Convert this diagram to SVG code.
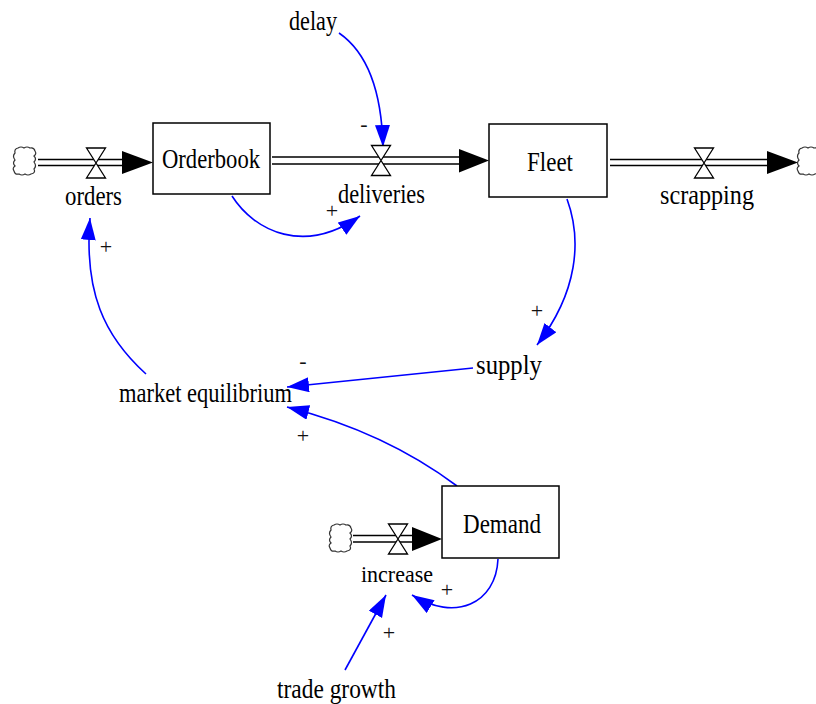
<svg xmlns="http://www.w3.org/2000/svg" xmlns:xlink="http://www.w3.org/1999/xlink" width="816" height="704" viewBox="0 0 816 704">
<style>
  text { fill: #000; }
  .lbl { font-family: "Liberation Serif", "Times New Roman", serif; font-size: 27px; }
  .sign { font-family: "Liberation Serif", "Times New Roman", serif; font-size: 22px; text-anchor: middle; fill: #111; }
  .box { fill: #fff; stroke: #000; stroke-width: 1.5; }
  .pipe { stroke: #000; stroke-width: 1.4; fill: none; }
  .head { fill: #000; stroke: none; }
  .valve { fill: #fff; stroke: #000; stroke-width: 1.3; }
  .cloud { fill: #fff; stroke: #333; stroke-width: 1.2; }
  .link { fill: none; stroke: #0000ff; stroke-width: 1.6; marker-end: url(#ah); }
</style>
<defs>
  <marker id="ah" markerUnits="userSpaceOnUse" markerWidth="23" markerHeight="16" refX="22" refY="7.5" orient="auto">
    <path d="M0,0 L22,7.5 L0,15 Z" fill="#0000ff"/>
  </marker>
  <path id="valve" class="valve" d="M-9.5,-15 H9.5 L-9.5,15 H9.5 Z"/>
  <path id="cloud" class="cloud" d="M5,1 q3,-2 6,0 q3,-2 6,0 q4,-1 5,3 q2,3 -1,5 q3,3 0,6 q3,4 0,7 q2,4 -3,5 q-3,2 -6,0 q-3,2 -6,0 q-4,1 -5,-3 q-2,-3 1,-5 q-3,-3 0,-6 q-3,-4 0,-7 q-1,-4 3,-5 z"/>
</defs>

<g id="connectors">
  <path class="pipe" d="M38,159.5 H125 M38,165.5 H125"/>
  <polygon class="head" points="122,151 153,162.5 122,174"/>
  <path class="pipe" d="M272,157 H462 M272,164 H462"/>
  <polygon class="head" points="459,149 489,160.5 459,172.5"/>
  <path class="pipe" d="M610,159.5 H770 M610,165.5 H770"/>
  <polygon class="head" points="767,151 798,162.5 767,174"/>
  <path class="pipe" d="M353,535.5 H415 M353,542 H415"/>
  <polygon class="head" points="412,527 442,539 412,551"/>

  <path class="link" d="M339,33 Q381,62 383,147"/>
  <path class="link" d="M232,196 C255,232 305,255 360,216"/>
  <path class="link" d="M567,199 C582,240 578,292 537,345"/>
  <path class="link" d="M473,368 L287,387"/>
  <path class="link" d="M457,486 Q385,432 287,407"/>
  <path class="link" d="M146,374 C104,336 84,292 90,218"/>
  <path class="link" d="M498,559 C496,604 455,622 412,595"/>
  <path class="link" d="M345,670 L386,595"/>

  <text class="sign" x="364" y="131">-</text>
  <text class="sign" x="332" y="218">+</text>
  <text class="sign" x="537" y="318">+</text>
  <text class="sign" x="303" y="368">-</text>
  <text class="sign" x="303" y="443">+</text>
  <text class="sign" x="106" y="254">+</text>
  <text class="sign" x="447" y="597">+</text>
  <text class="sign" x="389" y="640">+</text>
</g>

<g id="cloud-orders-source"><use xlink:href="#cloud" x="13" y="147"/></g>
<g id="cloud-scrapping-sink"><use xlink:href="#cloud" x="797" y="147"/></g>
<g id="cloud-increase-source"><use xlink:href="#cloud" x="329" y="524"/></g>

<g id="orders"><use xlink:href="#valve" x="96" y="163"/><text class="lbl" x="65" y="205" textLength="57" lengthAdjust="spacingAndGlyphs">orders</text></g>
<g id="deliveries"><use xlink:href="#valve" x="381" y="160.5"/><text class="lbl" x="338" y="203" textLength="87" lengthAdjust="spacingAndGlyphs">deliveries</text></g>
<g id="scrapping"><use xlink:href="#valve" x="704" y="163"/><text class="lbl" x="660" y="204" textLength="94" lengthAdjust="spacingAndGlyphs">scrapping</text></g>
<g id="increase"><use xlink:href="#valve" x="398" y="539"/><text class="lbl" x="361" y="582" font-size="24" style="font-size:24px" textLength="72" lengthAdjust="spacingAndGlyphs">increase</text></g>

<g id="Orderbook"><rect class="box" x="153" y="123" width="117" height="71"/><text class="lbl" x="162" y="168" textLength="98" lengthAdjust="spacingAndGlyphs">Orderbook</text></g>
<g id="Fleet"><rect class="box" x="489" y="124" width="118" height="73"/><text class="lbl" x="527" y="171" textLength="46" lengthAdjust="spacingAndGlyphs">Fleet</text></g>
<g id="Demand"><rect class="box" x="442" y="486" width="117" height="72"/><text class="lbl" x="463" y="533" textLength="78" lengthAdjust="spacingAndGlyphs">Demand</text></g>

<g id="delay"><text class="lbl" x="289" y="30" textLength="48" lengthAdjust="spacingAndGlyphs">delay</text></g>
<g id="supply"><text class="lbl" x="476" y="374" textLength="66" lengthAdjust="spacingAndGlyphs">supply</text></g>
<g id="market-equilibrium"><text class="lbl" x="119" y="402" textLength="173" lengthAdjust="spacingAndGlyphs">market equilibrium</text></g>
<g id="trade-growth"><text class="lbl" x="277" y="698" textLength="119" lengthAdjust="spacingAndGlyphs">trade growth</text></g>
</svg>
